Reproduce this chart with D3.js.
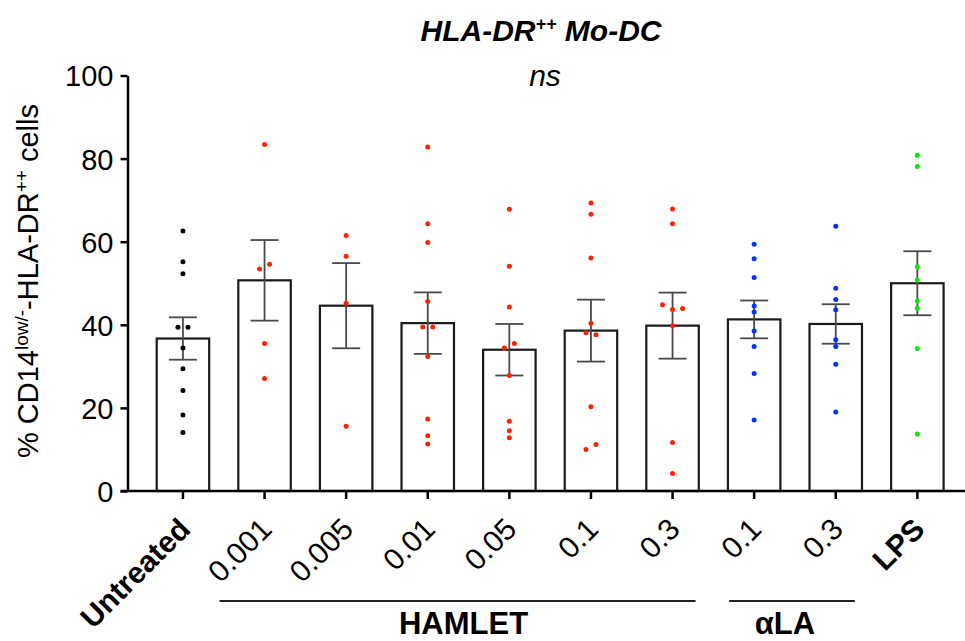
<!DOCTYPE html>
<html lang="en">
<head>
<meta charset="UTF-8">
<title>HLA-DR++ Mo-DC</title>
<script src="https://cdn.jsdelivr.net/npm/d3@7"></script>
<style>
  body { margin: 0; background: #fff; }
  text { font-family: "Liberation Sans", Arial, sans-serif; fill: #000; }
</style>
</head>
<body>
<script>
// groups along the x axis
const groups = ["untreated", "h0001", "h0005", "h001", "h005", "h01", "h03", "a01", "a03", "lps"];
const tickLabels = ["Untreated", "0.001", "0.005", "0.01", "0.05", "0.1", "0.3", "0.1", "0.3", "LPS"];
const boldTicks = ["untreated", "lps"];

// bar height (mean) and error (SEM)
const means = [36.7, 50.7, 44.6, 40.4, 34.0, 38.6, 39.8, 41.3, 40.2, 50.0];
const sems  = [5.1, 9.7, 10.25, 7.4, 6.2, 7.45, 7.95, 4.55, 4.75, 7.7];

// single donors
const ptsUntreated = [62.6, 55.2, 52.3, 39.4, 39.4, 34.4, 29.4, 24.2, 18.3, 14.1];
const ptsH0001 = [83.4, 53.4, 54.6, 35.5, 27.1];
const ptsH0005 = [61.5, 56.5, 45.2, 15.6];
const ptsH001  = [82.8, 64.3, 59.8, 45.6, 39.5, 39.5, 32.4, 17.3, 13.3, 11.3];
const ptsH005  = [67.8, 54.1, 44.3, 34.4, 35.5, 27.8, 16.8, 14.5, 12.8];
const ptsH01   = [69.3, 66.6, 56.1, 40.4, 38.1, 37.6, 20.3, 10.0, 11.2];
const ptsH03   = [67.9, 64.3, 44.8, 43.7, 43.9, 39.8, 11.7, 4.2];
const ptsA01   = [59.4, 55.9, 51.4, 44.5, 43.1, 38.5, 34.8, 28.3, 17.1];
const ptsA03   = [63.7, 48.8, 46.1, 43.6, 36.4, 34.8, 30.5, 19.0];
const ptsLps   = [80.8, 78.1, 54.0, 50.8, 45.7, 44.0, 34.3, 13.7];
const points = [ptsUntreated, ptsH0001, ptsH0005, ptsH001, ptsH005, ptsH01, ptsH03, ptsA01, ptsA03, ptsLps];

const dotColors = ["#000000", "#ff2200", "#ff2200", "#ff2200", "#ff2200", "#ff2200", "#ff2200", "#0033ff", "#0033ff", "#00ee00"];

const yTicks = [0, 20, 40, 60, 80, 100];

// brackets under the tick labels
const brackets = [
  { name: "HAMLET", from: "h0001", to: "h03", padL: 45, padR: 23, dx: 6 },
  { name: "\u03b1LA", from: "a01", to: "a03", padL: 25, padR: 19, dx: -7 }
];

const W = 965, H = 641;
const svg = d3.select("body").append("svg")
  .attr("width", W).attr("height", H);

const axisX = 127.5;
const x = d3.scaleBand()
  .domain(groups)
  .range([axisX, 972.8])
  .paddingInner(0.357)
  .paddingOuter(0.358);

const y = d3.scaleLinear().domain([0, 100]).range([491, 75.5]);

const cx = g => x(g) + x.bandwidth() / 2;

// bars
svg.append("g").selectAll("rect")
  .data(groups)
  .enter().append("rect")
  .attr("x", d => x(d))
  .attr("width", x.bandwidth())
  .attr("y", (d, i) => y(means[i]))
  .attr("height", (d, i) => y(0) - y(means[i]))
  .attr("fill", "#fff")
  .attr("stroke", "#1a1a1a")
  .attr("stroke-width", 2.2);

// error bars
const err = svg.append("g")
  .attr("stroke", "#4a4a4a")
  .attr("stroke-width", 1.8)
  .selectAll("g")
  .data(groups)
  .enter().append("g");
err.append("line")
  .attr("x1", d => cx(d)).attr("x2", d => cx(d))
  .attr("y1", (d, i) => y(means[i] + sems[i]))
  .attr("y2", (d, i) => y(means[i] - sems[i]));
err.append("line")
  .attr("x1", d => cx(d) - 14).attr("x2", d => cx(d) + 14)
  .attr("y1", (d, i) => y(means[i] + sems[i]))
  .attr("y2", (d, i) => y(means[i] + sems[i]));
err.append("line")
  .attr("x1", d => cx(d) - 14).attr("x2", d => cx(d) + 14)
  .attr("y1", (d, i) => y(means[i] - sems[i]))
  .attr("y2", (d, i) => y(means[i] - sems[i]));

// scatter: points that sit on the same row get spread sideways
const dots = [];
groups.forEach((g, gi) => {
  const idx = points[gi].map((v, i) => i).sort((a, b) => points[gi][b] - points[gi][a]);
  let row = [];
  let rowY = null;
  const flush = () => {
    row.sort((a, b) => a - b);
    row.forEach((pi, k) => {
      dots.push({ g: gi, v: points[gi][pi], off: (k - (row.length - 1) / 2) * 10 });
    });
    row = [];
  };
  idx.forEach(pi => {
    const py = y(points[gi][pi]);
    if (rowY === null || py - rowY >= 5.4) {
      if (row.length) flush();
      rowY = py;
    }
    row.push(pi);
  });
  flush();
});

svg.append("g").selectAll("circle")
  .data(dots)
  .enter().append("circle")
  .attr("cx", d => cx(groups[d.g]) + d.off)
  .attr("cy", d => y(d.v))
  .attr("r", 2.5)
  .attr("fill", d => dotColors[d.g]);

// y axis
const yAxis = svg.append("g")
  .attr("transform", `translate(${axisX},0)`)
  .call(d3.axisLeft(y).tickValues(yTicks).tickSize(7).tickSizeOuter(0).tickPadding(7));
yAxis.select(".domain").attr("stroke", "#000").attr("stroke-width", 2.5);
yAxis.selectAll(".tick line").attr("stroke", "#000").attr("stroke-width", 2.5);
yAxis.selectAll(".tick text")
  .attr("font-size", 29)
  .attr("font-family", "Liberation Sans, Arial, sans-serif")
  .attr("dy", "0.36em");

// x axis
const xAxis = svg.append("g")
  .attr("transform", `translate(0,${y(0)})`)
  .call(d3.axisBottom(x).tickSize(8).tickSizeOuter(0).tickFormat(""));
xAxis.select(".domain").remove();
xAxis.selectAll(".tick line").attr("stroke", "#000").attr("stroke-width", 2.5);
svg.append("line")
  .attr("x1", axisX - 7).attr("x2", W)
  .attr("y1", y(0)).attr("y2", y(0))
  .attr("stroke", "#000").attr("stroke-width", 2.6);

// rotated tick labels
svg.append("g").selectAll("text")
  .data(groups)
  .enter().append("text")
  .attr("transform", d => `translate(${cx(d) + 9},531) rotate(-45)`)
  .attr("text-anchor", "end")
  .attr("font-size", 30)
  .attr("font-weight", d => boldTicks.includes(d) ? "bold" : "normal")
  .text((d, i) => tickLabels[i]);

// group brackets
brackets.forEach(b => {
  const x1 = cx(b.from) - b.padL, x2 = cx(b.to) + b.padR;
  svg.append("line")
    .attr("x1", x1).attr("x2", x2)
    .attr("y1", 601).attr("y2", 601)
    .attr("stroke", "#222").attr("stroke-width", 2.2);
  svg.append("text")
    .attr("x", (x1 + x2) / 2 + b.dx)
    .attr("y", 634)
    .attr("text-anchor", "middle")
    .attr("font-size", 31)
    .attr("font-weight", "bold")
    .text(b.name);
});

// y axis title
const yTitle = svg.append("text")
  .attr("transform", "translate(38,281) rotate(-90)")
  .attr("text-anchor", "middle")
  .attr("font-size", 29);
yTitle.append("tspan").text("% CD14");
yTitle.append("tspan").attr("font-size", 19).attr("dy", -10).text("low/-");
yTitle.append("tspan").attr("dy", 10).text("-HLA-DR");
yTitle.append("tspan").attr("font-size", 19).attr("dy", -10).text("++");
yTitle.append("tspan").attr("dy", 10).text(" cells");

// title and stats
const title = svg.append("text")
  .attr("x", 541).attr("y", 41)
  .attr("text-anchor", "middle")
  .attr("font-size", 30)
  .attr("font-weight", "bold")
  .attr("font-style", "italic");
title.append("tspan").text("HLA-DR");
title.append("tspan").attr("font-size", 18).attr("dy", -11).text("++");
title.append("tspan").attr("dy", 11).text(" Mo-DC");

svg.append("text")
  .attr("x", 545).attr("y", 86)
  .attr("text-anchor", "middle")
  .attr("font-size", 30)
  .attr("font-style", "italic")
  .text("ns");
</script>
</body>
</html>
